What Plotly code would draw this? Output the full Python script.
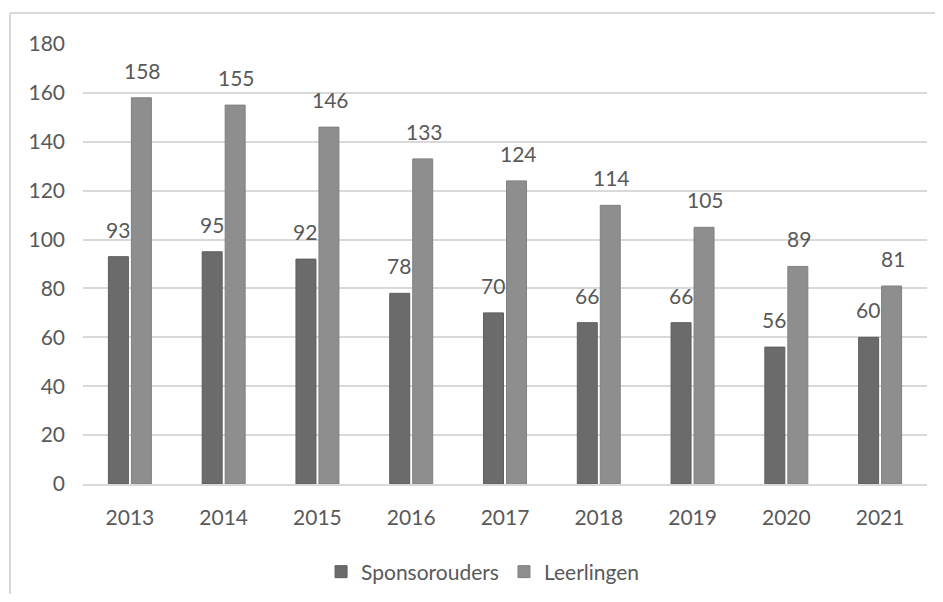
import plotly.graph_objects as go

years = [2013, 2014, 2015, 2016, 2017, 2018, 2019, 2020, 2021]
sponsorouders = [93, 95, 92, 78, 70, 66, 66, 56, 60]
leerlingen = [158, 155, 146, 133, 124, 114, 105, 89, 81]
y_ticks = [0, 20, 40, 60, 80, 100, 120, 140, 160, 180]

dark = "#6b6b6b"
light = "#8e8e8e"
txt = "#595959"
FONT = "Lato"
FS = 21

fig = go.Figure()
fig.add_trace(go.Bar(x=years, y=sponsorouders, name="Sponsorouders",
                     marker=dict(color=dark, line=dict(color="#5e5e5e", width=1))))
fig.add_trace(go.Bar(x=years, y=leerlingen, name="Leerlingen",
                     marker=dict(color=light, line=dict(color="#808080", width=1))))

ann = []
for yr, a, b in zip(years, sponsorouders, leerlingen):
    ann.append(dict(x=yr, y=a, text=str(a), xref="x", yref="y", showarrow=False,
                    xshift=-12, yshift=13, yanchor="bottom",
                    font=dict(family=FONT, size=FS, color=txt)))
    ann.append(dict(x=yr, y=b, text=str(b), xref="x", yref="y", showarrow=False,
                    xshift=13, yshift=13, yanchor="bottom",
                    font=dict(family=FONT, size=FS, color=txt)))

fig.update_layout(
    width=927, height=586,
    margin=dict(l=75, r=8, t=36, b=110, autoexpand=False),
    paper_bgcolor="white", plot_bgcolor="white",
    barmode="group", bargap=0.51, bargroupgap=0.13,
    font=dict(family=FONT, size=FS, color=txt),
    showlegend=True,
    legend=dict(orientation="h", x=0.474, xanchor="center", xref="paper",
                y=-0.2, yanchor="middle",
                font=dict(family=FONT, size=FS, color=txt),
                itemwidth=30, traceorder="normal"),
    annotations=ann,
    shapes=[
        dict(type="line", xref="paper", yref="paper", x0=-0.0865, x1=1.03,
             y0=1.0705, y1=1.0705, line=dict(color="#d9d9d9", width=2)),
        dict(type="line", xref="paper", yref="paper", x0=-0.0865, x1=-0.0865,
             y0=1.0705, y1=-0.3, line=dict(color="#d9d9d9", width=2)),
    ],
)
fig.update_xaxes(type="linear", range=[2012.5, 2021.5], tickvals=years,
                 ticktext=[str(y) for y in years],
                 showgrid=False, showline=True, linecolor="#d9d9d9",
                 linewidth=2, ticks="", ticklabelstandoff=14,
                 tickfont=dict(family=FONT, size=FS, color=txt))
fig.update_yaxes(range=[0, 180], tickvals=y_ticks, showgrid=True,
                 gridcolor="#d9d9d9", gridwidth=2, zeroline=False, showline=False,
                 ticks="", ticklabelstandoff=17,
                 tickfont=dict(family=FONT, size=FS, color=txt))

fig.write_html("out.html")
